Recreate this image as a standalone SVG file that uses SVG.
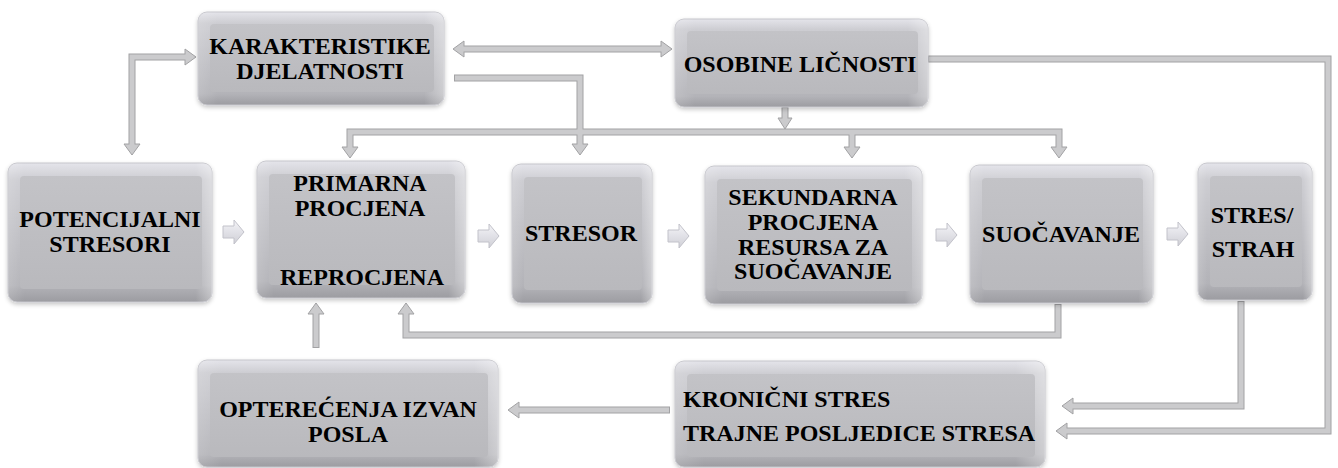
<svg xmlns="http://www.w3.org/2000/svg" width="1338" height="468" viewBox="0 0 1338 468">
<defs>
<linearGradient id="gOuter" x1="0" y1="0" x2="0" y2="1">
<stop offset="0" stop-color="#e4e4ea"/>
<stop offset="0.12" stop-color="#cdcdd2"/>
<stop offset="0.88" stop-color="#b3b3b8"/>
<stop offset="1" stop-color="#9c9ca1"/>
</linearGradient>
<linearGradient id="gSide" x1="0" y1="0" x2="1" y2="0">
<stop offset="0" stop-color="#ffffff" stop-opacity="0.15"/>
<stop offset="0.08" stop-color="#ffffff" stop-opacity="0"/>
<stop offset="0.92" stop-color="#ffffff" stop-opacity="0"/>
<stop offset="1" stop-color="#ffffff" stop-opacity="0.35"/>
</linearGradient>
<linearGradient id="gInner" x1="0" y1="0" x2="0" y2="1">
<stop offset="0" stop-color="#c3c3c7"/>
<stop offset="1" stop-color="#b9b9bd"/>
</linearGradient>
<linearGradient id="gChev" x1="0" y1="0" x2="0" y2="1">
<stop offset="0" stop-color="#f4f4f8"/>
<stop offset="1" stop-color="#cfcfd6"/>
</linearGradient>
<filter id="sh" x="-10%" y="-10%" width="120%" height="130%">
<feDropShadow dx="0" dy="2" stdDeviation="2" flood-color="#000" flood-opacity="0.22"/>
</filter>
</defs>
<style>
.box{fill:url(#gOuter);stroke:#c6c6cc;stroke-width:1;filter:url(#sh)}
.side{fill:url(#gSide)}
.face{fill:url(#gInner)}
.t{font-family:"Liberation Serif","Times New Roman",serif;font-weight:bold;font-size:24px;fill:#000;text-anchor:middle}
.tl{text-anchor:start}
.so{fill:none;stroke:#a2a2a4;stroke-width:7;stroke-linejoin:miter}
.si{fill:none;stroke:#cbcbcd;stroke-width:5;stroke-linejoin:miter}
.hd{fill:#cbcbcd;stroke:#a2a2a4;stroke-width:1;stroke-linejoin:miter}
.ch{fill:url(#gChev);stroke:#c2c2ca;stroke-width:1}
</style>
<rect width="1338" height="468" fill="#ffffff"/>

<g id="connectors">
<path class="so" d="M132,144 L132,57 L185,57"/>
<path class="so" d="M464,49 L661,49"/>
<path class="so" d="M785,107 L785,118"/>
<path class="so" d="M350,147 L350,132 L1059,132 L1059,147"/>
<path class="so" d="M852,132 L852,147"/>
<path class="so" d="M454,78 L580,78 L580,144"/>
<path class="so" d="M928,59 L1328,59 L1328,431 L1067,431"/>
<path class="so" d="M1241,301 L1241,406 L1073,406"/>
<path class="so" d="M1058,304 L1058,335 L406,335 L406,314"/>
<path class="so" d="M316,348 L316,314"/>
<path class="so" d="M670,410 L519,410"/>
<polygon class="hd" points="124,144 140,144 132,155"/>
<polygon class="hd" points="185,49 185,65 196,57"/>
<polygon class="hd" points="464,41 464,57 453,49"/>
<polygon class="hd" points="661,41 661,57 672,49"/>
<polygon class="hd" points="778,118 792,118 785,129"/>
<polygon class="hd" points="342,147 358,147 350,158"/>
<polygon class="hd" points="844,147 860,147 852,158"/>
<polygon class="hd" points="1051,147 1067,147 1059,158"/>
<polygon class="hd" points="572,144 588,144 580,155"/>
<polygon class="hd" points="1067,423 1067,439 1056,431"/>
<polygon class="hd" points="1073,398 1073,414 1062,406"/>
<polygon class="hd" points="398,314 414,314 406,303"/>
<polygon class="hd" points="308,314 324,314 316,303"/>
<polygon class="hd" points="519,402 519,418 508,410"/>
<path class="si" d="M132,145.5 L132,57 L186.5,57"/>
<path class="si" d="M462.5,49 L662.5,49"/>
<path class="si" d="M785,108 L785,119.5"/>
<path class="si" d="M350,148.5 L350,132 L1059,132 L1059,148.5"/>
<path class="si" d="M852,133 L852,148.5"/>
<path class="si" d="M455,78 L580,78 L580,145.5"/>
<path class="si" d="M929,59 L1328,59 L1328,431 L1065.5,431"/>
<path class="si" d="M1241,302 L1241,406 L1071.5,406"/>
<path class="si" d="M1058,305 L1058,335 L406,335 L406,312.5"/>
<path class="si" d="M316,347 L316,312.5"/>
<path class="si" d="M669,410 L517.5,410"/>
<polygon class="ch" points="223,226 234,226 234,220 244,232 234,244 234,238 223,238"/>
<polygon class="ch" points="478,230 489,230 489,224 499,236 489,248 489,242 478,242"/>
<polygon class="ch" points="668,230 679,230 679,224 689,236 679,248 679,242 668,242"/>
<polygon class="ch" points="936,229 947,229 947,223 957,235 947,247 947,241 936,241"/>
<polygon class="ch" points="1167,228 1178,228 1178,222 1188,234 1178,246 1178,240 1167,240"/>
</g>

<g id="n-potencijalni">
<rect class="box" x="8" y="163" width="204" height="139" rx="9"/>
<rect class="side" x="8" y="163" width="204" height="139" rx="9"/>
<rect class="face" x="20" y="176" width="182" height="113" rx="4"/>
<text class="t" x="110" y="227">POTENCIJALNI</text>
<text class="t" x="110" y="252">STRESORI</text>
</g>

<g id="n-karakteristike">
<rect class="box" x="198" y="12" width="246" height="93" rx="9"/>
<rect class="side" x="198" y="12" width="246" height="93" rx="9"/>
<rect class="face" x="210" y="24" width="224" height="68" rx="4"/>
<text class="t" x="320" y="54">KARAKTERISTIKE</text>
<text class="t" x="320" y="79">DJELATNOSTI</text>
</g>

<g id="n-osobine">
<rect class="box" x="675" y="19" width="253" height="88" rx="9"/>
<rect class="side" x="675" y="19" width="253" height="88" rx="9"/>
<rect class="face" x="687" y="31" width="231" height="63" rx="4"/>
<text class="t" x="800" y="72">OSOBINE LIČNOSTI</text>
</g>

<g id="n-primarna">
<rect class="box" x="257" y="161" width="208" height="137" rx="9"/>
<rect class="side" x="257" y="161" width="208" height="137" rx="9"/>
<rect class="face" x="269" y="174" width="186" height="111" rx="4"/>
<text class="t" x="360" y="191">PRIMARNA</text>
<text class="t" x="360" y="216">PROCJENA</text>
<text class="t" x="362" y="285">REPROCJENA</text>
</g>

<g id="n-stresor">
<rect class="box" x="512" y="164" width="140" height="139" rx="9"/>
<rect class="side" x="512" y="164" width="140" height="139" rx="9"/>
<rect class="face" x="524" y="177" width="118" height="113" rx="4"/>
<text class="t" x="581" y="241">STRESOR</text>
</g>

<g id="n-sekundarna">
<rect class="box" x="705" y="166" width="217" height="138" rx="9"/>
<rect class="side" x="705" y="166" width="217" height="138" rx="9"/>
<rect class="face" x="717" y="179" width="195" height="112" rx="4"/>
<text class="t" x="813" y="205">SEKUNDARNA</text>
<text class="t" x="813" y="230">PROCJENA</text>
<text class="t" x="813" y="255">RESURSA ZA</text>
<text class="t" x="813" y="279">SUOČAVANJE</text>
</g>

<g id="n-suocavanje">
<rect class="box" x="970" y="165" width="183" height="138" rx="9"/>
<rect class="side" x="970" y="165" width="183" height="138" rx="9"/>
<rect class="face" x="982" y="178" width="161" height="112" rx="4"/>
<text class="t" x="1061" y="242">SUOČAVANJE</text>
</g>

<g id="n-stres">
<rect class="box" x="1198" y="163" width="114" height="137" rx="9"/>
<rect class="side" x="1198" y="163" width="114" height="137" rx="9"/>
<rect class="face" x="1210" y="176" width="92" height="111" rx="4"/>
<text class="t" x="1252" y="223">STRES/</text>
<text class="t" x="1253" y="257">STRAH</text>
</g>

<g id="n-opterecenja">
<rect class="box" x="198" y="360" width="300" height="107" rx="9"/>
<rect class="side" x="198" y="360" width="300" height="107" rx="9"/>
<rect class="face" x="210" y="373" width="278" height="84" rx="4"/>
<text class="t" x="348" y="417">OPTEREĆENJA IZVAN</text>
<text class="t" x="348" y="442">POSLA</text>
</g>

<g id="n-kronicni">
<rect class="box" x="675" y="361" width="370" height="106" rx="9"/>
<rect class="side" x="675" y="361" width="370" height="106" rx="9"/>
<rect class="face" x="687" y="374" width="348" height="83" rx="4"/>
<text class="t tl" x="683" y="407">KRONIČNI STRES</text>
<text class="t tl" x="683" y="441">TRAJNE POSLJEDICE STRESA</text>
</g>
</svg>
